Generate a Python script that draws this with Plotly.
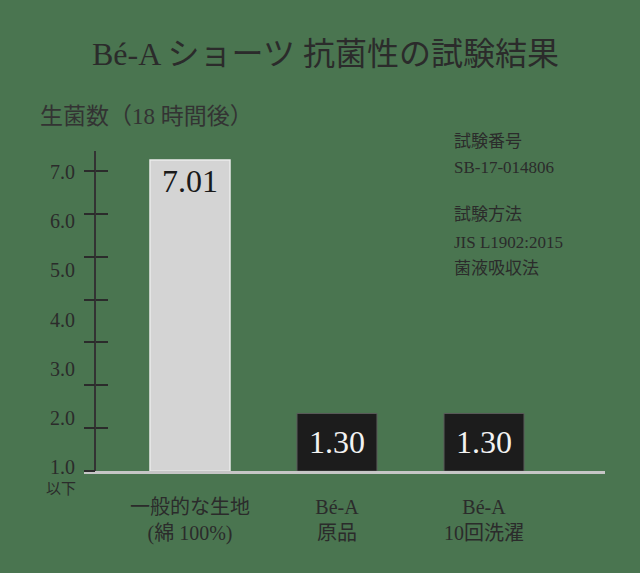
import plotly.graph_objects as go

# data
categories = ["一般的な生地<br>(綿 100%)", "Bé-A<br>原品", "Bé-A<br>10回洗濯"]
counts = [7.01, 1.30, 1.30]
tick_vals = [1, 2, 3, 4, 5, 6, 7]
tick_text = ["1.0", "2.0", "3.0", "4.0", "5.0", "6.0", "7.0"]
info_lines = ["試験番号", "SB-17-014806", "", "試験方法", "JIS L1902:2015", "菌液吸収法"]

BG = "#4a7550"
DARK = "#2b2b2b"
SERIF = "Liberation Serif, Noto Sans CJK JP"

fig = go.Figure()

# plain fabric bar (light) and Bé-A bars (black)
fig.add_trace(go.Bar(
    x=categories[:1], y=counts[:1], width=0.544,
    marker=dict(color="#d4d4d4", line=dict(color="#ececec", width=1.5)),
    texttemplate="%{y:.2f}", textposition="inside", insidetextanchor="end",
    textangle=0, insidetextfont=dict(family=SERIF, size=32, color="#1a1a1a"),
    hoverinfo="skip", showlegend=False,
))
fig.add_trace(go.Bar(
    x=categories[1:], y=counts[1:], width=0.544,
    marker=dict(color="#1c1c1c", line=dict(color="#5a5a5a", width=1)),
    texttemplate="%{y:.2f}", textposition="inside", insidetextanchor="middle",
    textangle=0, insidetextfont=dict(family=SERIF, size=32, color="#f2f2f2"),
    hoverinfo="skip", showlegend=False,
))
# empty traces so the label / tick axes get drawn
for ax in ["y2", "y3", "y4"]:
    fig.add_trace(go.Scatter(x=[], y=[], yaxis=ax, showlegend=False, hoverinfo="skip"))

fig.update_layout(
    width=640, height=573,
    margin=dict(l=0, r=0, t=0, b=0),
    paper_bgcolor=BG, plot_bgcolor="rgba(0,0,0,0)",
    barmode="overlay",
    font=dict(family=SERIF, color=DARK),
    xaxis=dict(
        type="category", categoryorder="array", categoryarray=categories,
        range=[-0.721, 2.823], domain=[0.13125, 0.9453], anchor="y",
        showline=True, linecolor="#c6c6c6", linewidth=3,
        ticks="", showgrid=False, zeroline=False,
        tickfont=dict(family=SERIF, size=20, color=DARK),
        ticklabelstandoff=16,
    ),
    yaxis=dict(
        range=[0, 7.21], domain=[0.1675, 0.733],
        anchor="free", position=0.1484,
        showline=True, linecolor="#333333", linewidth=2,
        showticklabels=False, ticks="", showgrid=False, zeroline=False,
    ),
    # labelled scale (its 1.0 sits just above the baseline, as in the original)
    yaxis2=dict(
        overlaying="y", range=[0.92, 7.42], anchor="free", position=0.1484,
        showline=False, showgrid=False, zeroline=False, ticks="",
        tickvals=tick_vals, ticktext=tick_text,
        tickfont=dict(family=SERIF, size=20, color=DARK),
        ticklabelstandoff=20,
    ),
    # tick marks crossing the axis line
    yaxis3=dict(
        overlaying="y", range=[1, 7.394], anchor="free", position=0.1484,
        showline=False, showgrid=False, zeroline=False, showticklabels=False,
        tick0=1, dtick=6 / 7, ticks="outside", ticklen=11, tickwidth=2, tickcolor=DARK,
    ),
    yaxis4=dict(
        overlaying="y", range=[1, 7.394], anchor="free", position=0.1484,
        showline=False, showgrid=False, zeroline=False, showticklabels=False,
        tick0=1 + 6 / 7, dtick=6 / 7, ticks="inside", ticklen=12, tickwidth=2, tickcolor=DARK,
    ),
)

# title and axis caption
fig.add_annotation(text="Bé-A ショーツ 抗菌性の試験結果", xref="paper", yref="paper",
                   x=0.508, y=0.904, xanchor="center", yanchor="middle", showarrow=False,
                   font=dict(family=SERIF, size=32, color=DARK))
fig.add_annotation(text="生菌数（18 時間後）", xref="paper", yref="paper",
                   x=0.059, y=0.794, xanchor="left", yanchor="middle", showarrow=False,
                   font=dict(family=SERIF, size=23, color="#333333"))
fig.add_annotation(text="以下", xref="paper", yref="paper",
                   x=0.095, y=0.136, xanchor="center", yanchor="middle", showarrow=False,
                   font=dict(family=SERIF, size=15, color=DARK))

# test info block on the right
info_y = [0.7504, 0.7033, 0.662, 0.6213, 0.5724, 0.5253]
for line, yy in zip(info_lines, info_y):
    if line:
        fig.add_annotation(text=line, xref="paper", yref="paper",
                           x=0.707, y=yy, xanchor="left", yanchor="middle", showarrow=False,
                           font=dict(family=SERIF, size=17, color=DARK))

fig.write_html("out.html", config={"displayModeBar": False},
               post_script="document.body.style.margin='0';")
